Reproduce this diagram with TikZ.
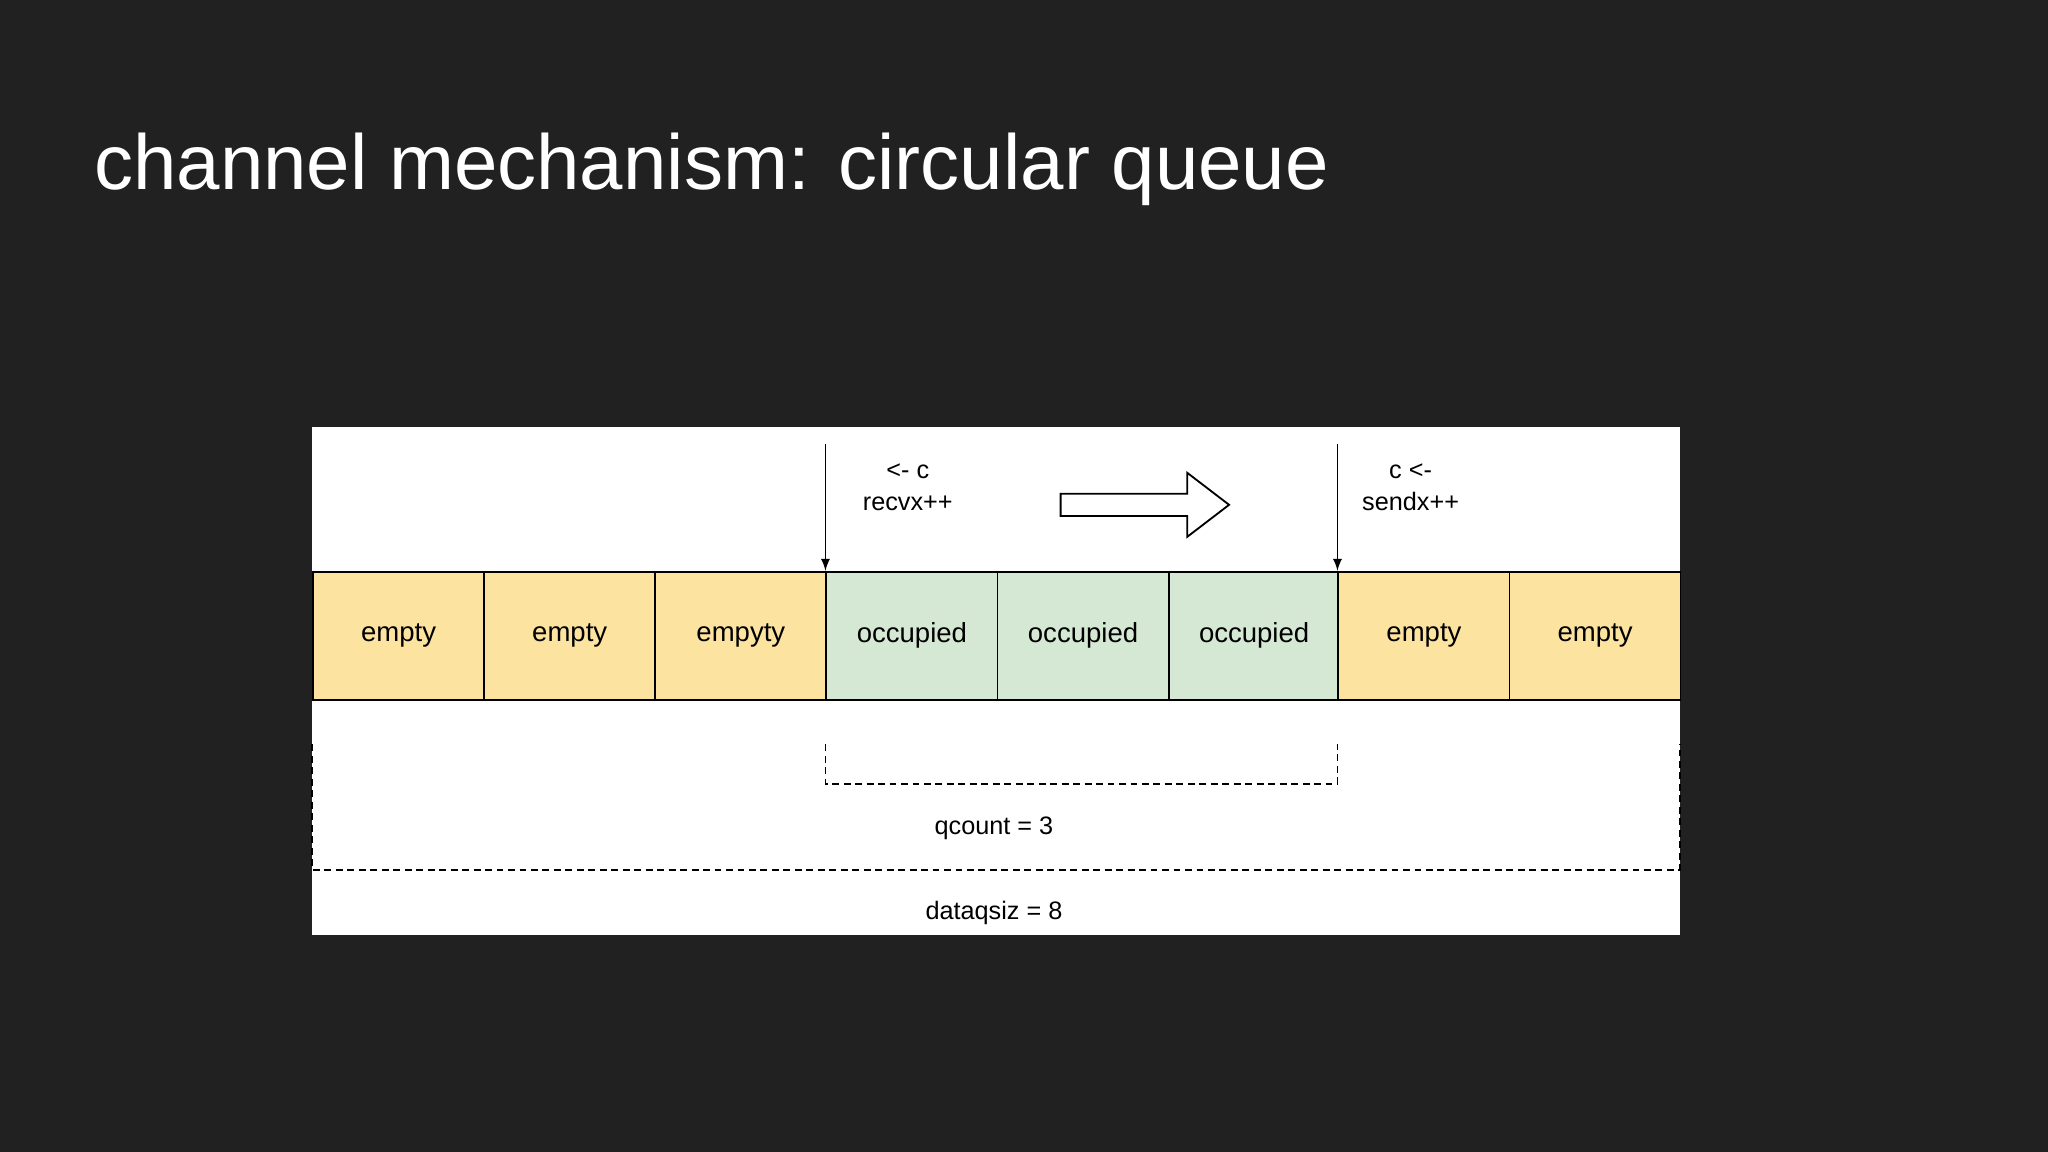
\documentclass[tikz,border=0pt]{standalone}
\usepackage{fontspec}
\setmainfont{Liberation Sans}
\begin{document}
\begin{tikzpicture}[x=0.02cm,y=-0.02cm,
  cell/.style={draw=black,line width=0.8pt,minimum width=2.62cm,minimum height=1.96cm,inner sep=0pt,font=\fontsize{12}{14}\selectfont,anchor=north west},
  emp/.style={cell,fill=yellowc},
  occ/.style={cell,fill=greenc},
  lbl/.style={font=\fontsize{11}{14}\selectfont,align=center},
  dsh/.style={line width=0.8pt,dash pattern=on 3pt off 2pt}]
\definecolor{bgc}{HTML}{212121}
\definecolor{yellowc}{HTML}{FCE3A0}
\definecolor{greenc}{HTML}{D5E8D4}
\fill[bgc] (0,0) rectangle (1568,882);
\useasboundingbox (0,0) rectangle (1568,882);
\node[anchor=west,text=white,font=\fontsize{34}{40}\selectfont] (title) at (66,130) {channel mechanism: circular queue};
\fill[white] (239,327) rectangle (1286,716);
\node[emp] (c1) at (239,437) {empty};
\node[emp] (c2) at (370,437) {empty};
\node[emp] (c3) at (501,437) {empyty};
\node[occ] (c4) at (632,437) {occupied};
\node[occ] (c5) at (763,437) {occupied};
\node[occ] (c6) at (894,437) {occupied};
\node[emp] (c7) at (1024,437) {empty};
\node[emp] (c8) at (1155,437) {empty};
\coordinate (r0) at (632,340);
\coordinate (s0) at (1024,340);
\draw[line width=0.8pt,-latex] (r0) -- (c4.north west);
\draw[line width=0.8pt,-latex] (s0) -- (c7.north west);
\node[lbl] (rl) at (695,373) {<- c\\recvx++};
\node[lbl] (sl) at (1080,373) {c <-\\sendx++};
\draw[line width=0.8pt,fill=white] (812,378) -- (909,378) -- (909,362) -- (941,386.5) -- (909,411) -- (909,395) -- (812,395) -- cycle;
\coordinate (q1) at (632,570); \coordinate (q2) at (632,600);
\coordinate (q3) at (1024,600); \coordinate (q4) at (1024,570);
\draw[dsh] (q1) -- (q2) -- (q3) -- (q4);
\node[lbl] (qc) at (761,634) {qcount = 3};
\coordinate (d1) at (239,570); \coordinate (d2) at (239,666);
\coordinate (d3) at (1286,666); \coordinate (d4) at (1286,570);
\draw[dsh] (d1) -- (d2) -- (d3) -- (d4);
\node[lbl] (ds) at (761,699) {dataqsiz = 8};
\end{tikzpicture}
\end{document}
